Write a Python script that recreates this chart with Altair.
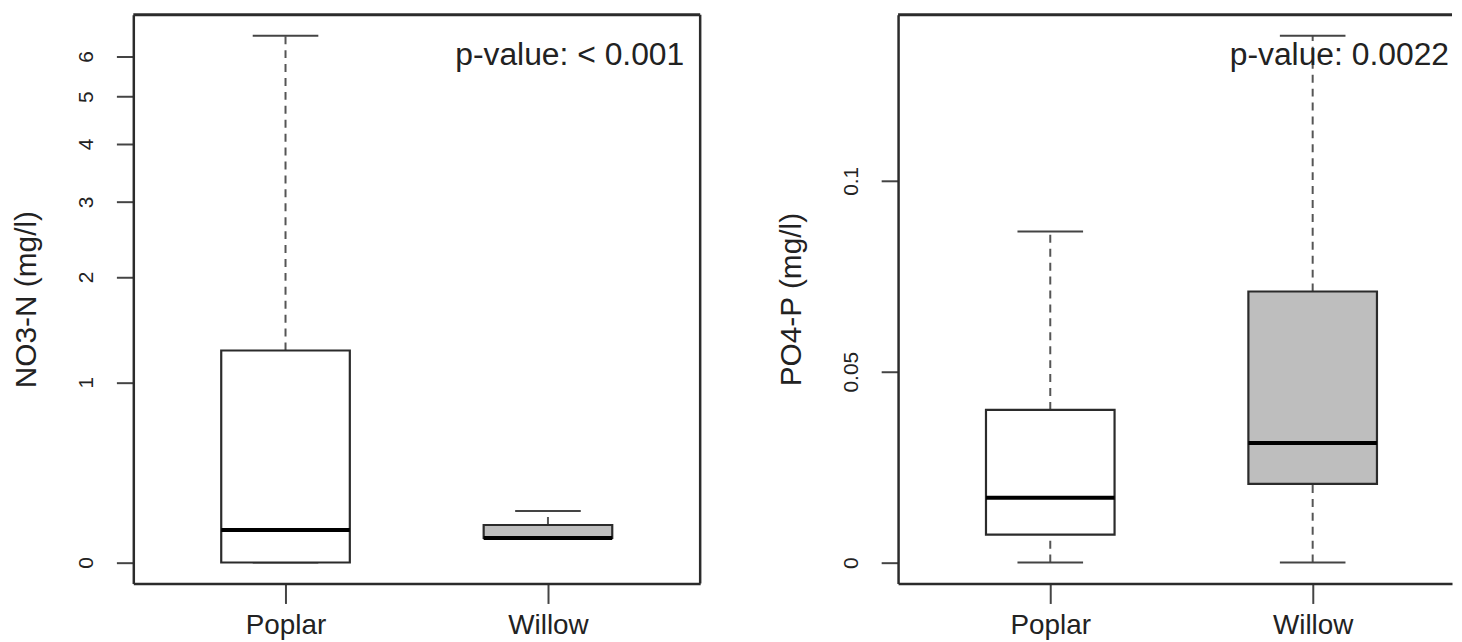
import altair as alt
import pandas as pd

# ---- data ----
categories = ["Poplar", "Willow"]
positions = [1, 2]
box_fill = ["#FFFFFF", "#BEBEBE"]

no3_min = [0.0, 0.099]
no3_q1 = [0.0, 0.099]
no3_median = [0.133, 0.099]
no3_q3 = [1.26, 0.155]
no3_max = [6.58, 0.219]

po4_min = [0.0, 0.0]
po4_q1 = [0.0073, 0.0206]
po4_median = [0.017, 0.0313]
po4_q3 = [0.040, 0.071]
po4_max = [0.0867, 0.138]

no3_ticks = [0, 1, 2, 3, 4, 5, 6]
po4_ticks = [0, 0.05, 0.1]
y_titles = ["NO3-N (mg/l)", "PO4-P (mg/l)"]
p_values = ["p-value: < 0.001", "p-value: 0.0022"]

FONT = "Liberation Sans"
PLOT_H = 572
INK = "#2b2b2b"

label_expr = "[" + ",".join("'%s'" % c for c in categories) + "][datum.value - 1]"


def panel(mins, q1s, meds, q3s, maxs, ydomain, symlog, yticks, ytitle, ptext,
          width, xdomain, right_border):
    df = pd.DataFrame({"cat": categories, "pos": positions, "lo": mins, "q1": q1s,
                       "med": meds, "q3": q3s, "hi": maxs, "fill": box_fill})
    base = alt.Chart(df).transform_calculate(
        bl="datum.pos - 0.245", br="datum.pos + 0.245",
        cl="datum.pos - 0.125", cr="datum.pos + 0.125")

    if symlog:
        yscale = alt.Scale(type="symlog", constant=1, domain=ydomain, nice=False, zero=False)
    else:
        yscale = alt.Scale(domain=ydomain, nice=False, zero=False)
    xscale = alt.Scale(domain=xdomain, nice=False, zero=False)

    x_axis = alt.Axis(values=positions, labelExpr=label_expr, title=None, grid=False,
                      tickSize=20, labelPadding=8, labelFontSize=28, labelAngle=0,
                      labelColor="#222222", domainColor=INK, domainWidth=2.5,
                      tickColor="#444444", tickWidth=2, labelFont=FONT)
    y_axis = alt.Axis(values=yticks, format="~g", title=ytitle, grid=False,
                      tickSize=17, labelPadding=20, labelFontSize=21,
                      labelColor="#222222", domainColor=INK, domainWidth=2.5,
                      tickColor="#444444", tickWidth=2, labelFont=FONT,
                      labelAngle=270, labelAlign="center", labelBaseline="bottom",
                      titleAngle=270, titleX=-107, titleY=PLOT_H / 2,
                      titleAlign="center", titleBaseline="middle", titleFontSize=30,
                      titleFontWeight="normal", titleColor="#222222", titleFont=FONT)

    whisk_hi = base.mark_rule(color="#555555", strokeWidth=2, strokeDash=[8, 6]).encode(
        x=alt.X("pos:Q", scale=xscale, axis=x_axis),
        y=alt.Y("q3:Q", scale=yscale, axis=y_axis),
        y2="hi:Q")
    whisk_lo = base.mark_rule(color="#555555", strokeWidth=2, strokeDash=[8, 6]).encode(
        x="pos:Q", y="lo:Q", y2="q1:Q")
    cap_hi = base.mark_rule(color="#444444", strokeWidth=2).encode(
        x="cl:Q", x2="cr:Q", y="hi:Q")
    cap_lo = base.mark_rule(color="#444444", strokeWidth=2).encode(
        x="cl:Q", x2="cr:Q", y="lo:Q")
    box = base.mark_rect(stroke=INK, strokeWidth=2.2).encode(
        x="bl:Q", x2="br:Q", y="q1:Q", y2="q3:Q",
        fill=alt.Fill("fill:N", scale=None))
    median = base.mark_rule(color="black", strokeWidth=4).encode(
        x="bl:Q", x2="br:Q", y="med:Q")

    one = alt.Chart(pd.DataFrame({"t": [ptext]}))
    top_rule = one.mark_rule(color=INK, strokeWidth=3).encode(
        x=alt.value(0), x2=alt.value(width), y=alt.value(0))
    txt = one.mark_text(align="right", baseline="alphabetic", fontSize=32,
                        font=FONT, color="#222222").encode(
        x=alt.value(554), y=alt.value(51), text="t:N")

    layers = [whisk_hi, whisk_lo, cap_hi, cap_lo, box, median, top_rule, txt]
    if right_border:
        layers.append(one.mark_rule(color=INK, strokeWidth=2.5).encode(
            x=alt.value(width), y=alt.value(0), y2=alt.value(PLOT_H)))
    return alt.layer(*layers).properties(width=width, height=PLOT_H)


left = panel(no3_min, no3_q1, no3_median, no3_q3, no3_max,
             [-0.0844, 7.22], True, no3_ticks, y_titles[0], p_values[0],
             570, [0.42, 2.58], True)
right = panel(po4_min, po4_q1, po4_median, po4_q3, po4_max,
              [-0.0055, 0.1435], False, po4_ticks, y_titles[1], p_values[1],
              557, [0.42, 2.531], False)

chart = alt.hconcat(left, right, spacing=199, bounds="flush").properties(
    padding={"left": 4, "top": 3, "right": 0, "bottom": 0},
    background="white",
).configure_view(strokeWidth=0, stroke="transparent").configure_axis(
    labelFont=FONT, titleFont=FONT, titleColor="#222222", titleFontWeight="normal"
)

chart.save("out.html", embed_options={"renderer": "svg", "actions": False})
